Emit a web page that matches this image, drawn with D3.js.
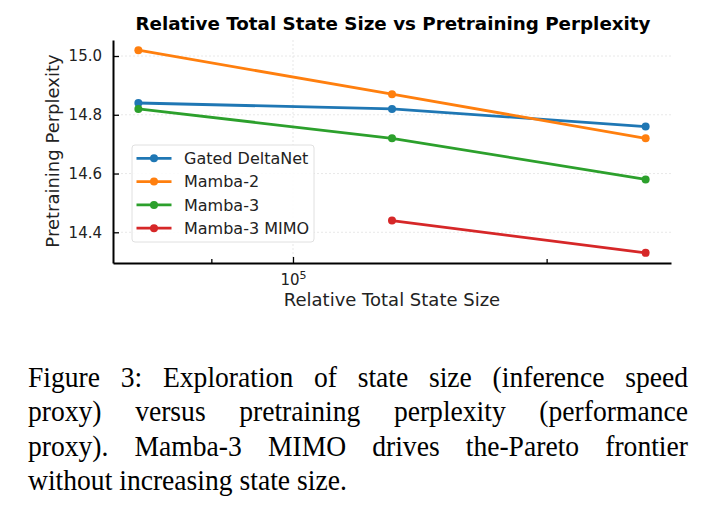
<!DOCTYPE html>
<html>
<head>
<meta charset="utf-8">
<script src="https://cdn.jsdelivr.net/npm/d3@7"></script>
<style>
  body { margin: 0; background: #fff; }
  svg { display: block; }
</style>
</head>
<body>
<svg width="716" height="522"></svg>
<script>
const svg = d3.select("svg");

// data
const stateSizes = [65536, 131072, 262144];
const seriesNames = ["Gated DeltaNet", "Mamba-2", "Mamba-3", "Mamba-3 MIMO"];
const gatedDeltaNet = [14.84, 14.82, 14.76];
const mamba2 = [15.02, 14.87, 14.72];
const mamba3 = [14.82, 14.72, 14.58];
const mamba3Mimo = [null, 14.44, 14.33];
const yTicks = [14.4, 14.6, 14.8, 15.0];
const xMajorTicks = [1e5];
const xMinorTicks = [8e4, 2e5];
const colors = ["#1f77b4", "#ff7f0e", "#2ca02c", "#d62728"];
const captionLines = [
  "Figure 3: Exploration of state size (inference speed",
  "proxy) versus pretraining perplexity (performance",
  "proxy).  Mamba-3 MIMO drives the-Pareto frontier",
  "without increasing state size."
];

const series = [gatedDeltaNet, mamba2, mamba3, mamba3Mimo].map((vals, i) => ({
  name: seriesNames[i],
  color: colors[i],
  points: vals.map((v, j) => ({ x: stateSizes[j], y: v })).filter(p => p.y !== null)
}));

const pLeft = 113, pRight = 671, pTop = 40, pBottom = 263;

// matplotlib style 5% margins
const lx = d3.extent(stateSizes).map(Math.log10);
const mx = (lx[1] - lx[0]) * 0.05;
const x = d3.scaleLog()
  .domain([Math.pow(10, lx[0] - mx), Math.pow(10, lx[1] + mx)])
  .range([pLeft, pRight]);

const allY = series.flatMap(s => s.points.map(p => p.y));
const ey = d3.extent(allY);
const my = (ey[1] - ey[0]) * 0.05;
const y = d3.scaleLinear()
  .domain([ey[0] - my, ey[1] + my])
  .range([pBottom, pTop]);

/* grid */
svg.append("g").selectAll("line")
  .data(yTicks)
  .enter().append("line")
  .attr("x1", pLeft).attr("x2", pRight)
  .attr("y1", d => y(d)).attr("y2", d => y(d))
  .attr("stroke", "#e2e2e2")
  .attr("stroke-width", 0.8)
  .attr("stroke-dasharray", "2,2");

svg.append("g").selectAll("line")
  .data(xMajorTicks)
  .enter().append("line")
  .attr("x1", d => x(d)).attr("x2", d => x(d))
  .attr("y1", pTop).attr("y2", pBottom)
  .attr("stroke", "#e2e2e2")
  .attr("stroke-width", 0.8)
  .attr("stroke-dasharray", "2,2");

/* axes */
const yAxis = svg.append("g")
  .attr("transform", `translate(${pLeft},0)`)
  .call(d3.axisLeft(y).tickValues(yTicks).tickFormat(d3.format(".1f")).tickSizeInner(-6).tickSizeOuter(0).tickPadding(11));

const xAxis = svg.append("g")
  .attr("transform", `translate(0,${pBottom})`)
  .call(d3.axisBottom(x).tickValues(xMajorTicks).tickFormat("").tickSizeInner(-6).tickSizeOuter(0));

svg.append("g")
  .attr("transform", `translate(0,${pBottom})`)
  .call(d3.axisBottom(x).tickValues(xMinorTicks).tickFormat("").tickSizeInner(-4).tickSizeOuter(0))
  .select(".domain").remove();

[yAxis, xAxis].forEach(a => {
  a.select(".domain").attr("stroke", "#000").attr("stroke-width", 2);
});
svg.selectAll(".tick line").attr("stroke", "#000").attr("stroke-width", 1.3);
yAxis.selectAll("text")
  .attr("font-family", "DejaVu Sans")
  .attr("font-size", 15)
  .attr("fill", "#222");

// 10^5 label
xAxis.selectAll(".tick").each(function(d) {
  const t = d3.select(this).append("text")
    .attr("y", 22)
    .attr("text-anchor", "middle")
    .attr("font-family", "DejaVu Sans")
    .attr("font-size", 15)
    .attr("fill", "#222");
  t.append("tspan").text("10");
  t.append("tspan").attr("dy", -6).attr("font-size", 11).text(Math.round(Math.log10(d)));
});

/* labels */
svg.append("text")
  .attr("x", (pLeft + pRight) / 2 + 1).attr("y", 30)
  .attr("text-anchor", "middle")
  .attr("font-family", "DejaVu Sans")
  .attr("font-weight", "bold")
  .attr("font-size", 18.3)
  .text("Relative Total State Size vs Pretraining Perplexity");

svg.append("text")
  .attr("x", (pLeft + pRight) / 2).attr("y", 306)
  .attr("text-anchor", "middle")
  .attr("font-family", "DejaVu Sans")
  .attr("font-size", 18)
  .attr("fill", "#222")
  .text("Relative Total State Size");

svg.append("text")
  .attr("transform", `translate(59,151) rotate(-90)`)
  .attr("text-anchor", "middle")
  .attr("font-family", "DejaVu Sans")
  .attr("font-size", 18)
  .attr("fill", "#222")
  .text("Pretraining Perplexity");

/* lines */
const line = d3.line().x(d => x(d.x)).y(d => y(d.y));

const sg = svg.selectAll(".series")
  .data(series)
  .enter().append("g")
  .attr("class", "series");

sg.append("path")
  .attr("d", d => line(d.points))
  .attr("fill", "none")
  .attr("stroke", d => d.color)
  .attr("stroke-width", 2.8);

sg.selectAll("circle")
  .data(d => d.points.map(p => ({ ...p, color: d.color })))
  .enter().append("circle")
  .attr("cx", d => x(d.x))
  .attr("cy", d => y(d.y))
  .attr("r", 4)
  .attr("fill", d => d.color);

/* legend */
const lg = svg.append("g").attr("transform", "translate(132,145)");
lg.append("rect")
  .attr("width", 182).attr("height", 97)
  .attr("rx", 3)
  .attr("fill", "#fff").attr("fill-opacity", 0.85)
  .attr("stroke", "#e0e0e0");

const li = lg.selectAll(".li")
  .data(series)
  .enter().append("g")
  .attr("transform", (d, i) => `translate(0,${13.3 + i * 23.3})`);
li.append("line")
  .attr("x1", 4.5).attr("x2", 39.5)
  .attr("stroke", d => d.color).attr("stroke-width", 2.8);
li.append("circle")
  .attr("cx", 22).attr("r", 4)
  .attr("fill", d => d.color);
li.append("text")
  .attr("x", 52).attr("dy", "0.36em")
  .attr("font-family", "DejaVu Sans")
  .attr("font-size", 16)
  .attr("fill", "#222")
  .text(d => d.name);

/* caption, justified */
const capLeft = 28, capRight = 688, capScale = 0.92;
const cap = svg.append("g");
captionLines.forEach((ln, i) => {
  const words = ln.split(/\s+/);
  const yy = 387 + i * 34.4;
  const nodes = words.map(w => cap.append("text")
    .attr("y", yy)
    .attr("font-family", "Liberation Serif")
    .attr("font-size", 30)
    .text(w));
  const widths = nodes.map(n => n.node().getComputedTextLength());
  const total = d3.sum(widths);
  const last = i === captionLines.length - 1;
  const natSpace = 7.5;
  let sx = capScale;
  if (!last && (total + natSpace * (words.length - 1)) * sx > capRight - capLeft) {
    sx = (capRight - capLeft) / (total + natSpace * (words.length - 1));
  }
  const gap = last ? natSpace : ((capRight - capLeft) / sx - total) / (words.length - 1);
  let cx = 0;
  nodes.forEach((n, k) => {
    n.attr("transform", `translate(${capLeft},0) scale(${sx},1)`).attr("x", cx);
    cx += widths[k] + gap;
  });
});
</script>
</body>
</html>
